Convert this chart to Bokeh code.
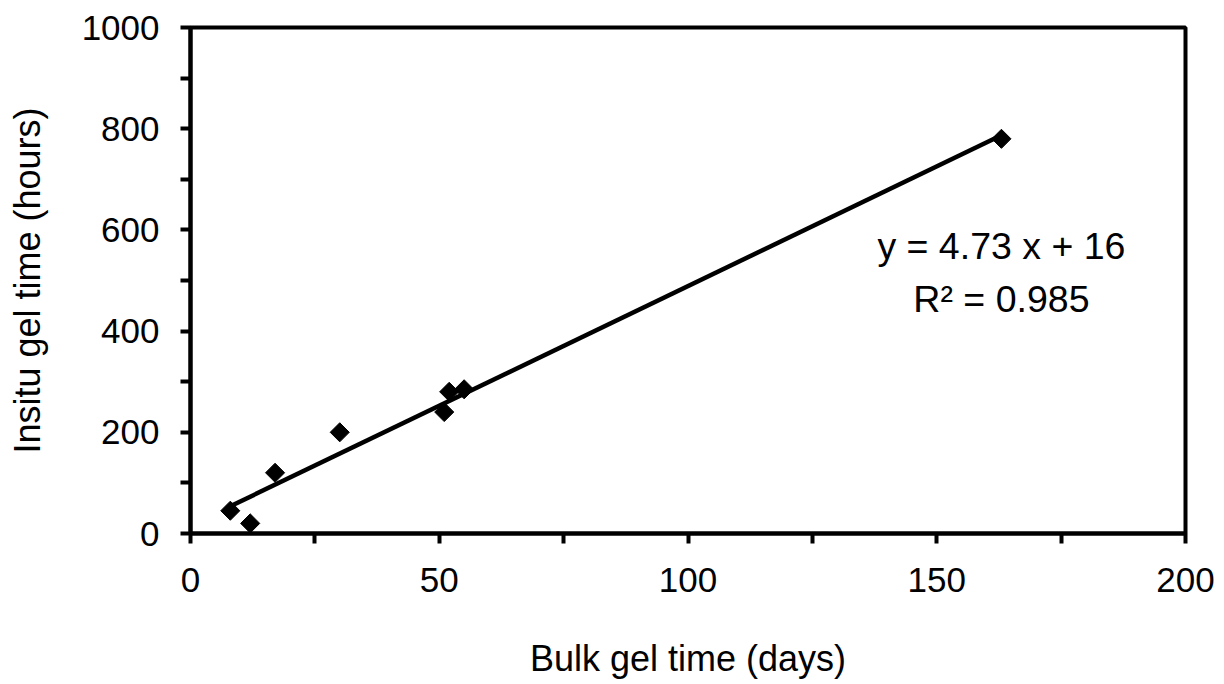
import numpy as np
from bokeh.plotting import figure
from bokeh.models import Range1d, FixedTicker, Label, ColumnDataSource
from bokeh.embed import file_html
from bokeh.resources import INLINE

# Data
bulk_gel_days = [8, 12, 17, 30, 51, 52, 55, 163]
insitu_gel_hours = [45, 20, 120, 200, 240, 280, 285, 780]
fit_slope = 4.73
fit_intercept = 16
fit_r2 = 0.985

x_major_ticks = [0, 50, 100, 150, 200]
x_minor_ticks = [25, 75, 125, 175]
y_major_ticks = [0, 200, 400, 600, 800, 1000]
y_minor_ticks = [100, 300, 500, 700, 900]

FONT = "Liberation Sans"

p = figure(frame_width=995, frame_height=506,
           x_range=Range1d(0, 200), y_range=Range1d(0, 1000),
           output_backend="svg", toolbar_location=None,
           min_border_left=190, min_border_right=39,
           min_border_top=27, min_border_bottom=151)

p.xgrid.visible = False
p.ygrid.visible = False
p.background_fill_color = "white"
p.border_fill_color = "white"
p.outline_line_color = "black"
p.outline_line_width = 4
p.outline_line_alpha = 1.0

p.xaxis.ticker = FixedTicker(ticks=x_major_ticks, minor_ticks=x_minor_ticks)
p.yaxis.ticker = FixedTicker(ticks=y_major_ticks, minor_ticks=y_minor_ticks)

for ax in (p.xaxis[0], p.yaxis[0]):
    ax.axis_line_width = 4
    ax.axis_line_color = "black"
    ax.major_tick_line_width = 4
    ax.minor_tick_line_width = 4
    ax.major_tick_in = 0
    ax.major_tick_out = 10
    ax.minor_tick_in = 0
    ax.minor_tick_out = 10
    ax.major_tick_line_color = "black"
    ax.minor_tick_line_color = "black"
    ax.major_label_text_font = FONT
    ax.major_label_text_font_size = "35px"
    ax.major_label_text_color = "black"
    ax.axis_label_text_font = FONT
    ax.axis_label_text_font_size = "36px"
    ax.axis_label_text_font_style = "normal"
    ax.axis_label_text_color = "black"

p.xaxis.axis_label = "Bulk gel time (days)"
p.yaxis.axis_label = "Insitu gel time (hours)"
p.xaxis.major_label_standoff = 24
p.yaxis.major_label_standoff = 21
p.xaxis.axis_label_standoff = 43
p.yaxis.axis_label_standoff = 31

# regression line
xs = np.array([min(bulk_gel_days), max(bulk_gel_days)], dtype=float)
ys = fit_slope * xs + fit_intercept
p.line(xs, ys, line_color="black", line_width=4.5)

src = ColumnDataSource(data=dict(x=bulk_gel_days, y=insitu_gel_hours))
p.scatter("x", "y", source=src, marker="square", size=13.5, angle=np.pi / 4,
          fill_color="black", line_color="black")

p.add_layout(Label(x=163, y=569, text=f"y = {fit_slope} x + {fit_intercept}",
                   text_font=FONT, text_font_size="37.5px", text_align="center",
                   text_baseline="middle", text_color="black"))
p.add_layout(Label(x=163, y=464, text=f"R\u00b2 = {fit_r2}",
                   text_font=FONT, text_font_size="37.5px", text_align="center",
                   text_baseline="middle", text_color="black"))

open("out.html", "w").write(file_html(p, INLINE))
